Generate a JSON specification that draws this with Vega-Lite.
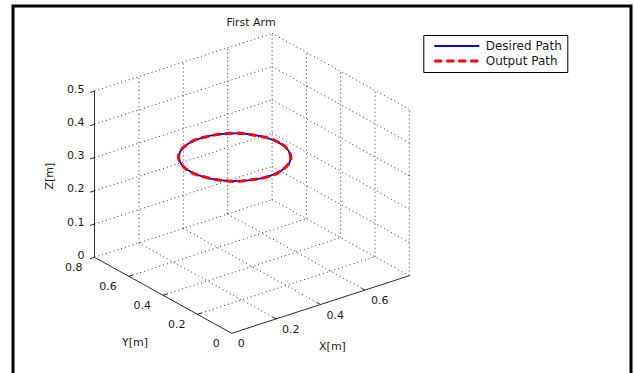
{
  "$schema": "https://vega.github.io/schema/vega-lite/v6.json",
  "width": 618,
  "height": 372,
  "autosize": {"type": "none"},
  "padding": {"left": 13, "top": 6, "right": 3, "bottom": 0},
  "background": "white",
  "config": {
    "view": {"stroke": "black", "strokeWidth": 3},
    "font": "DejaVu Sans",
    "text": {"font": "DejaVu Sans", "fontSize": 11, "color": "#1a1a1a"}
  },
  "title": {
    "text": "First Arm",
    "orient": "top",
    "anchor": "middle",
    "frame": "group",
    "dx": -71,
    "offset": -27.5,
    "baseline": "middle",
    "font": "DejaVu Sans",
    "fontSize": 11,
    "fontWeight": "normal",
    "color": "#1a1a1a"
  },
  "datasets": {
    "segs": [
      {"k": "g", "X1": 0.2, "Y1": 0.8, "Z1": 0, "X2": 0.2, "Y2": 0.8, "Z2": 0.5},
      {"k": "g", "X1": 0.4, "Y1": 0.8, "Z1": 0, "X2": 0.4, "Y2": 0.8, "Z2": 0.5},
      {"k": "g", "X1": 0.6, "Y1": 0.8, "Z1": 0, "X2": 0.6, "Y2": 0.8, "Z2": 0.5},
      {"k": "g", "X1": 0.8, "Y1": 0.8, "Z1": 0, "X2": 0.8, "Y2": 0.8, "Z2": 0.5},
      {"k": "g", "X1": 0, "Y1": 0.8, "Z1": 0.1, "X2": 0.8, "Y2": 0.8, "Z2": 0.1},
      {"k": "g", "X1": 0, "Y1": 0.8, "Z1": 0.2, "X2": 0.8, "Y2": 0.8, "Z2": 0.2},
      {"k": "g", "X1": 0, "Y1": 0.8, "Z1": 0.3, "X2": 0.8, "Y2": 0.8, "Z2": 0.3},
      {"k": "g", "X1": 0, "Y1": 0.8, "Z1": 0.4, "X2": 0.8, "Y2": 0.8, "Z2": 0.4},
      {"k": "g", "X1": 0, "Y1": 0.8, "Z1": 0.5, "X2": 0.8, "Y2": 0.8, "Z2": 0.5},
      {"k": "g", "X1": 0.8, "Y1": 0, "Z1": 0, "X2": 0.8, "Y2": 0, "Z2": 0.5},
      {"k": "g", "X1": 0.8, "Y1": 0.2, "Z1": 0, "X2": 0.8, "Y2": 0.2, "Z2": 0.5},
      {"k": "g", "X1": 0.8, "Y1": 0.4, "Z1": 0, "X2": 0.8, "Y2": 0.4, "Z2": 0.5},
      {"k": "g", "X1": 0.8, "Y1": 0.6, "Z1": 0, "X2": 0.8, "Y2": 0.6, "Z2": 0.5},
      {"k": "g", "X1": 0.8, "Y1": 0, "Z1": 0.1, "X2": 0.8, "Y2": 0.8, "Z2": 0.1},
      {"k": "g", "X1": 0.8, "Y1": 0, "Z1": 0.2, "X2": 0.8, "Y2": 0.8, "Z2": 0.2},
      {"k": "g", "X1": 0.8, "Y1": 0, "Z1": 0.3, "X2": 0.8, "Y2": 0.8, "Z2": 0.3},
      {"k": "g", "X1": 0.8, "Y1": 0, "Z1": 0.4, "X2": 0.8, "Y2": 0.8, "Z2": 0.4},
      {"k": "g", "X1": 0.8, "Y1": 0, "Z1": 0.5, "X2": 0.8, "Y2": 0.8, "Z2": 0.5},
      {"k": "g", "X1": 0.2, "Y1": 0, "Z1": 0, "X2": 0.2, "Y2": 0.8, "Z2": 0},
      {"k": "g", "X1": 0.4, "Y1": 0, "Z1": 0, "X2": 0.4, "Y2": 0.8, "Z2": 0},
      {"k": "g", "X1": 0.6, "Y1": 0, "Z1": 0, "X2": 0.6, "Y2": 0.8, "Z2": 0},
      {"k": "g", "X1": 0.8, "Y1": 0, "Z1": 0, "X2": 0.8, "Y2": 0.8, "Z2": 0},
      {"k": "g", "X1": 0, "Y1": 0.2, "Z1": 0, "X2": 0.8, "Y2": 0.2, "Z2": 0},
      {"k": "g", "X1": 0, "Y1": 0.4, "Z1": 0, "X2": 0.8, "Y2": 0.4, "Z2": 0},
      {"k": "g", "X1": 0, "Y1": 0.6, "Z1": 0, "X2": 0.8, "Y2": 0.6, "Z2": 0},
      {"k": "g", "X1": 0, "Y1": 0.8, "Z1": 0, "X2": 0.8, "Y2": 0.8, "Z2": 0},
      {"k": "a", "X1": 0, "Y1": 0.8, "Z1": 0, "X2": 0, "Y2": 0.8, "Z2": 0.5},
      {"k": "a", "X1": 0, "Y1": 0, "Z1": 0, "X2": 0, "Y2": 0.8, "Z2": 0},
      {"k": "a", "X1": 0, "Y1": 0, "Z1": 0, "X2": 0.8, "Y2": 0, "Z2": 0},
      {"k": "t", "X1": 0, "Y1": 0.8, "Z1": 0.1, "X2": -0.02, "Y2": 0.8, "Z2": 0.1},
      {"k": "t", "X1": 0, "Y1": 0.8, "Z1": 0.2, "X2": -0.02, "Y2": 0.8, "Z2": 0.2},
      {"k": "t", "X1": 0, "Y1": 0.8, "Z1": 0.3, "X2": -0.02, "Y2": 0.8, "Z2": 0.3},
      {"k": "t", "X1": 0, "Y1": 0.8, "Z1": 0.4, "X2": -0.02, "Y2": 0.8, "Z2": 0.4},
      {"k": "t", "X1": 0, "Y1": 0.8, "Z1": 0.5, "X2": -0.02, "Y2": 0.8, "Z2": 0.5},
      {"k": "t", "X1": 0, "Y1": 0.8, "Z1": 0, "X2": -0.02, "Y2": 0.8, "Z2": 0},
      {"k": "t", "X1": 0, "Y1": 0.2, "Z1": 0, "X2": 0.02, "Y2": 0.2, "Z2": 0},
      {"k": "t", "X1": 0, "Y1": 0.4, "Z1": 0, "X2": 0.02, "Y2": 0.4, "Z2": 0},
      {"k": "t", "X1": 0, "Y1": 0.6, "Z1": 0, "X2": 0.02, "Y2": 0.6, "Z2": 0},
      {"k": "t", "X1": 0.2, "Y1": 0, "Z1": 0, "X2": 0.2, "Y2": 0.02, "Z2": 0},
      {"k": "t", "X1": 0.4, "Y1": 0, "Z1": 0, "X2": 0.4, "Y2": 0.02, "Z2": 0},
      {"k": "t", "X1": 0.6, "Y1": 0, "Z1": 0, "X2": 0.6, "Y2": 0.02, "Z2": 0}
    ],
    "labels": [
      {"k": "z", "text": "0", "X": 0, "Y": 0.8, "Z": 0},
      {"k": "z", "text": "0.1", "X": 0, "Y": 0.8, "Z": 0.1},
      {"k": "z", "text": "0.2", "X": 0, "Y": 0.8, "Z": 0.2},
      {"k": "z", "text": "0.3", "X": 0, "Y": 0.8, "Z": 0.3},
      {"k": "z", "text": "0.4", "X": 0, "Y": 0.8, "Z": 0.4},
      {"k": "z", "text": "0.5", "X": 0, "Y": 0.8, "Z": 0.5},
      {"k": "y", "text": "0", "X": 0, "Y": 0, "Z": 0},
      {"k": "y", "text": "0.2", "X": 0, "Y": 0.2, "Z": 0},
      {"k": "y", "text": "0.4", "X": 0, "Y": 0.4, "Z": 0},
      {"k": "y", "text": "0.6", "X": 0, "Y": 0.6, "Z": 0},
      {"k": "y", "text": "0.8", "X": 0, "Y": 0.8, "Z": 0},
      {"k": "x", "text": "0", "X": 0, "Y": 0, "Z": 0},
      {"k": "x", "text": "0.2", "X": 0.2, "Y": 0, "Z": 0},
      {"k": "x", "text": "0.4", "X": 0.4, "Y": 0, "Z": 0},
      {"k": "x", "text": "0.6", "X": 0.6, "Y": 0, "Z": 0},
      {"k": "zt", "text": "Z[m]", "X": 0, "Y": 0.8, "Z": 0.25},
      {"k": "yt", "text": "Y[m]", "X": 0, "Y": 0.4, "Z": 0},
      {"k": "xt", "text": "X[m]", "X": 0.4, "Y": 0, "Z": 0}
    ],
    "paths": [
      {"path": "Desired Path", "t": 0, "X": 0.6, "Y": 0.5, "Z": 0.3},
      {"path": "Desired Path", "t": 10, "X": 0.597, "Y": 0.5347, "Z": 0.3},
      {"path": "Desired Path", "t": 20, "X": 0.5879, "Y": 0.5684, "Z": 0.3},
      {"path": "Desired Path", "t": 30, "X": 0.5732, "Y": 0.6, "Z": 0.3},
      {"path": "Desired Path", "t": 40, "X": 0.5532, "Y": 0.6286, "Z": 0.3},
      {"path": "Desired Path", "t": 50, "X": 0.5286, "Y": 0.6532, "Z": 0.3},
      {"path": "Desired Path", "t": 60, "X": 0.5, "Y": 0.6732, "Z": 0.3},
      {"path": "Desired Path", "t": 70, "X": 0.4684, "Y": 0.6879, "Z": 0.3},
      {"path": "Desired Path", "t": 80, "X": 0.4347, "Y": 0.697, "Z": 0.3},
      {"path": "Desired Path", "t": 90, "X": 0.4, "Y": 0.7, "Z": 0.3},
      {"path": "Desired Path", "t": 100, "X": 0.3653, "Y": 0.697, "Z": 0.3},
      {"path": "Desired Path", "t": 110, "X": 0.3316, "Y": 0.6879, "Z": 0.3},
      {"path": "Desired Path", "t": 120, "X": 0.3, "Y": 0.6732, "Z": 0.3},
      {"path": "Desired Path", "t": 130, "X": 0.2714, "Y": 0.6532, "Z": 0.3},
      {"path": "Desired Path", "t": 140, "X": 0.2468, "Y": 0.6286, "Z": 0.3},
      {"path": "Desired Path", "t": 150, "X": 0.2268, "Y": 0.6, "Z": 0.3},
      {"path": "Desired Path", "t": 160, "X": 0.2121, "Y": 0.5684, "Z": 0.3},
      {"path": "Desired Path", "t": 170, "X": 0.203, "Y": 0.5347, "Z": 0.3},
      {"path": "Desired Path", "t": 180, "X": 0.2, "Y": 0.5, "Z": 0.3},
      {"path": "Desired Path", "t": 190, "X": 0.203, "Y": 0.4653, "Z": 0.3},
      {"path": "Desired Path", "t": 200, "X": 0.2121, "Y": 0.4316, "Z": 0.3},
      {"path": "Desired Path", "t": 210, "X": 0.2268, "Y": 0.4, "Z": 0.3},
      {"path": "Desired Path", "t": 220, "X": 0.2468, "Y": 0.3714, "Z": 0.3},
      {"path": "Desired Path", "t": 230, "X": 0.2714, "Y": 0.3468, "Z": 0.3},
      {"path": "Desired Path", "t": 240, "X": 0.3, "Y": 0.3268, "Z": 0.3},
      {"path": "Desired Path", "t": 250, "X": 0.3316, "Y": 0.3121, "Z": 0.3},
      {"path": "Desired Path", "t": 260, "X": 0.3653, "Y": 0.303, "Z": 0.3},
      {"path": "Desired Path", "t": 270, "X": 0.4, "Y": 0.3, "Z": 0.3},
      {"path": "Desired Path", "t": 280, "X": 0.4347, "Y": 0.303, "Z": 0.3},
      {"path": "Desired Path", "t": 290, "X": 0.4684, "Y": 0.3121, "Z": 0.3},
      {"path": "Desired Path", "t": 300, "X": 0.5, "Y": 0.3268, "Z": 0.3},
      {"path": "Desired Path", "t": 310, "X": 0.5286, "Y": 0.3468, "Z": 0.3},
      {"path": "Desired Path", "t": 320, "X": 0.5532, "Y": 0.3714, "Z": 0.3},
      {"path": "Desired Path", "t": 330, "X": 0.5732, "Y": 0.4, "Z": 0.3},
      {"path": "Desired Path", "t": 340, "X": 0.5879, "Y": 0.4316, "Z": 0.3},
      {"path": "Desired Path", "t": 350, "X": 0.597, "Y": 0.4653, "Z": 0.3},
      {"path": "Desired Path", "t": 360, "X": 0.6, "Y": 0.5, "Z": 0.3},
      {"path": "Output Path", "t": 0, "X": 0.601, "Y": 0.5, "Z": 0.3},
      {"path": "Output Path", "t": 10, "X": 0.598, "Y": 0.5351, "Z": 0.301},
      {"path": "Output Path", "t": 20, "X": 0.5884, "Y": 0.5682, "Z": 0.3},
      {"path": "Output Path", "t": 30, "X": 0.5736, "Y": 0.6005, "Z": 0.299},
      {"path": "Output Path", "t": 40, "X": 0.553, "Y": 0.6292, "Z": 0.3},
      {"path": "Output Path", "t": 50, "X": 0.5289, "Y": 0.653, "Z": 0.301},
      {"path": "Output Path", "t": 60, "X": 0.5004, "Y": 0.6738, "Z": 0.3},
      {"path": "Output Path", "t": 70, "X": 0.4682, "Y": 0.6883, "Z": 0.3},
      {"path": "Output Path", "t": 80, "X": 0.435, "Y": 0.6976, "Z": 0.299},
      {"path": "Output Path", "t": 90, "X": 0.4, "Y": 0.7006, "Z": 0.3},
      {"path": "Output Path", "t": 100, "X": 0.3651, "Y": 0.6974, "Z": 0.301},
      {"path": "Output Path", "t": 110, "X": 0.3312, "Y": 0.6884, "Z": 0.3},
      {"path": "Output Path", "t": 120, "X": 0.2996, "Y": 0.6735, "Z": 0.3},
      {"path": "Output Path", "t": 130, "X": 0.2709, "Y": 0.6536, "Z": 0.299},
      {"path": "Output Path", "t": 140, "X": 0.2463, "Y": 0.6289, "Z": 0.3},
      {"path": "Output Path", "t": 150, "X": 0.2262, "Y": 0.6003, "Z": 0.301},
      {"path": "Output Path", "t": 160, "X": 0.2115, "Y": 0.5686, "Z": 0.3},
      {"path": "Output Path", "t": 170, "X": 0.2024, "Y": 0.5348, "Z": 0.3},
      {"path": "Output Path", "t": 180, "X": 0.1994, "Y": 0.5, "Z": 0.299},
      {"path": "Output Path", "t": 190, "X": 0.2025, "Y": 0.4651, "Z": 0.3},
      {"path": "Output Path", "t": 200, "X": 0.2117, "Y": 0.4312, "Z": 0.301},
      {"path": "Output Path", "t": 210, "X": 0.2264, "Y": 0.3995, "Z": 0.3},
      {"path": "Output Path", "t": 220, "X": 0.2466, "Y": 0.3709, "Z": 0.3},
      {"path": "Output Path", "t": 230, "X": 0.2712, "Y": 0.3462, "Z": 0.299},
      {"path": "Output Path", "t": 240, "X": 0.2998, "Y": 0.3263, "Z": 0.3},
      {"path": "Output Path", "t": 250, "X": 0.3315, "Y": 0.3116, "Z": 0.301},
      {"path": "Output Path", "t": 260, "X": 0.3654, "Y": 0.3025, "Z": 0.3},
      {"path": "Output Path", "t": 270, "X": 0.4002, "Y": 0.2995, "Z": 0.3},
      {"path": "Output Path", "t": 280, "X": 0.4349, "Y": 0.3026, "Z": 0.299},
      {"path": "Output Path", "t": 290, "X": 0.4688, "Y": 0.3117, "Z": 0.3},
      {"path": "Output Path", "t": 300, "X": 0.5004, "Y": 0.3265, "Z": 0.301},
      {"path": "Output Path", "t": 310, "X": 0.5291, "Y": 0.3465, "Z": 0.3},
      {"path": "Output Path", "t": 320, "X": 0.5537, "Y": 0.3712, "Z": 0.3},
      {"path": "Output Path", "t": 330, "X": 0.5737, "Y": 0.3998, "Z": 0.299},
      {"path": "Output Path", "t": 340, "X": 0.5884, "Y": 0.4315, "Z": 0.3},
      {"path": "Output Path", "t": 350, "X": 0.5975, "Y": 0.4652, "Z": 0.301},
      {"path": "Output Path", "t": 360, "X": 0.601, "Y": 0.5, "Z": 0.3}
    ]
  },
  "layer": [
    {
      "data": {"name": "segs"},
      "transform": [
        {"filter": "datum.k == 'g'"},
        {"calculate": "222*datum.X1 - 171.5*datum.Y1", "as": "px1"},
        {"calculate": "72*datum.X1 + 95*datum.Y1 + 332.6*datum.Z1", "as": "py1"},
        {"calculate": "222*datum.X2 - 171.5*datum.Y2", "as": "px2"},
        {"calculate": "72*datum.X2 + 95*datum.Y2 + 332.6*datum.Z2", "as": "py2"}
      ],
      "mark": {"type": "rule", "color": "#333333", "strokeWidth": 1, "strokeDash": [1, 3]},
      "encoding": {
        "x": {"field": "px1", "type": "quantitative", "axis": null, "scale": {"domain": [-218.7, 399.3], "nice": false, "zero": false}},
        "y": {"field": "py1", "type": "quantitative", "axis": null, "scale": {"domain": [-44.7, 327.3], "nice": false, "zero": false}},
        "x2": {"field": "px2"},
        "y2": {"field": "py2"}
      }
    },
    {
      "data": {"name": "segs"},
      "transform": [
        {"filter": "datum.k != 'g'"},
        {"calculate": "222*datum.X1 - 171.5*datum.Y1", "as": "px1"},
        {"calculate": "72*datum.X1 + 95*datum.Y1 + 332.6*datum.Z1", "as": "py1"},
        {"calculate": "222*datum.X2 - 171.5*datum.Y2", "as": "px2"},
        {"calculate": "72*datum.X2 + 95*datum.Y2 + 332.6*datum.Z2", "as": "py2"}
      ],
      "mark": {"type": "rule", "color": "#2a2a2a", "strokeWidth": 1},
      "encoding": {
        "x": {"field": "px1", "type": "quantitative", "axis": null, "scale": {"domain": [-218.7, 399.3], "nice": false, "zero": false}},
        "y": {"field": "py1", "type": "quantitative", "axis": null, "scale": {"domain": [-44.7, 327.3], "nice": false, "zero": false}},
        "x2": {"field": "px2"},
        "y2": {"field": "py2"}
      }
    },
    {
      "data": {"name": "paths"},
      "transform": [
        {"calculate": "222*datum.X - 171.5*datum.Y", "as": "px"},
        {"calculate": "72*datum.X + 95*datum.Y + 332.6*datum.Z", "as": "py"}
      ],
      "mark": {"type": "line", "interpolate": "linear"},
      "encoding": {
        "x": {"field": "px", "type": "quantitative", "axis": null, "scale": {"domain": [-218.7, 399.3], "nice": false, "zero": false}},
        "y": {"field": "py", "type": "quantitative", "axis": null, "scale": {"domain": [-44.7, 327.3], "nice": false, "zero": false}},
        "order": {"field": "t", "type": "quantitative"},
        "strokeWidth": {
          "field": "path",
          "type": "nominal",
          "scale": {"domain": ["Desired Path", "Output Path"], "range": [1.8, 3]},
          "legend": null
        },
        "color": {
          "field": "path",
          "type": "nominal",
          "scale": {"domain": ["Desired Path", "Output Path"], "range": ["#0000ff", "#ff0000"]},
          "legend": {
            "title": null,
            "orient": "none",
            "legendX": 410.3,
            "legendY": 29,
            "strokeColor": "black",
            "fillColor": "white",
            "padding": 5,
            "symbolType": "M-7.5,0H7.5",
            "symbolSize": 36,
            "symbolStrokeWidth": 2,
            "symbolOffset": 22.5,
            "labelFont": "DejaVu Sans",
            "labelFontSize": 12,
            "labelColor": "#1a1a1a",
            "labelOffset": 22.9,
            "rowPadding": 3
          }
        },
        "strokeDash": {
          "field": "path",
          "type": "nominal",
          "scale": {"domain": ["Desired Path", "Output Path"], "range": [[1, 0], [8, 4]]},
          "legend": {
            "title": null,
            "orient": "none",
            "legendX": 410.3,
            "legendY": 29,
            "strokeColor": "black",
            "fillColor": "white",
            "padding": 5,
            "symbolType": "M-7.5,0H7.5",
            "symbolSize": 36,
            "symbolStrokeWidth": 2,
            "symbolOffset": 22.5,
            "labelFont": "DejaVu Sans",
            "labelFontSize": 12,
            "labelColor": "#1a1a1a",
            "labelOffset": 22.9,
            "rowPadding": 3
          }
        }
      }
    },
    {
      "data": {"name": "labels"},
      "transform": [
        {"filter": "datum.k == 'z'"},
        {"calculate": "222*datum.X - 171.5*datum.Y", "as": "px"},
        {"calculate": "72*datum.X + 95*datum.Y + 332.6*datum.Z", "as": "py"}
      ],
      "mark": {"type": "text", "align": "right", "baseline": "middle", "dx": -10, "dy": -1.5},
      "encoding": {
        "x": {"field": "px", "type": "quantitative", "axis": null, "scale": {"domain": [-218.7, 399.3], "nice": false, "zero": false}},
        "y": {"field": "py", "type": "quantitative", "axis": null, "scale": {"domain": [-44.7, 327.3], "nice": false, "zero": false}},
        "text": {"field": "text"}
      }
    },
    {
      "data": {"name": "labels"},
      "transform": [
        {"filter": "datum.k == 'y'"},
        {"calculate": "222*datum.X - 171.5*datum.Y", "as": "px"},
        {"calculate": "72*datum.X + 95*datum.Y + 332.6*datum.Z", "as": "py"}
      ],
      "mark": {"type": "text", "align": "right", "baseline": "middle", "dx": -12, "dy": 10.5},
      "encoding": {
        "x": {"field": "px", "type": "quantitative", "axis": null, "scale": {"domain": [-218.7, 399.3], "nice": false, "zero": false}},
        "y": {"field": "py", "type": "quantitative", "axis": null, "scale": {"domain": [-44.7, 327.3], "nice": false, "zero": false}},
        "text": {"field": "text"}
      }
    },
    {
      "data": {"name": "labels"},
      "transform": [
        {"filter": "datum.k == 'x'"},
        {"calculate": "222*datum.X - 171.5*datum.Y", "as": "px"},
        {"calculate": "72*datum.X + 95*datum.Y + 332.6*datum.Z", "as": "py"}
      ],
      "mark": {"type": "text", "align": "left", "baseline": "middle", "dx": 6, "dy": 11},
      "encoding": {
        "x": {"field": "px", "type": "quantitative", "axis": null, "scale": {"domain": [-218.7, 399.3], "nice": false, "zero": false}},
        "y": {"field": "py", "type": "quantitative", "axis": null, "scale": {"domain": [-44.7, 327.3], "nice": false, "zero": false}},
        "text": {"field": "text"}
      }
    },
    {
      "data": {"name": "labels"},
      "transform": [
        {"filter": "datum.k == 'zt'"},
        {"calculate": "222*datum.X - 171.5*datum.Y", "as": "px"},
        {"calculate": "72*datum.X + 95*datum.Y + 332.6*datum.Z", "as": "py"}
      ],
      "mark": {"type": "text", "align": "center", "baseline": "middle", "angle": 270, "dx": -2, "dy": -44.5},
      "encoding": {
        "x": {"field": "px", "type": "quantitative", "axis": null, "scale": {"domain": [-218.7, 399.3], "nice": false, "zero": false}},
        "y": {"field": "py", "type": "quantitative", "axis": null, "scale": {"domain": [-44.7, 327.3], "nice": false, "zero": false}},
        "text": {"field": "text"}
      }
    },
    {
      "data": {"name": "labels"},
      "transform": [
        {"filter": "datum.k == 'yt'"},
        {"calculate": "222*datum.X - 171.5*datum.Y", "as": "px"},
        {"calculate": "72*datum.X + 95*datum.Y + 332.6*datum.Z", "as": "py"}
      ],
      "mark": {"type": "text", "align": "center", "baseline": "middle", "dx": -28, "dy": 48},
      "encoding": {
        "x": {"field": "px", "type": "quantitative", "axis": null, "scale": {"domain": [-218.7, 399.3], "nice": false, "zero": false}},
        "y": {"field": "py", "type": "quantitative", "axis": null, "scale": {"domain": [-44.7, 327.3], "nice": false, "zero": false}},
        "text": {"field": "text"}
      }
    },
    {
      "data": {"name": "labels"},
      "transform": [
        {"filter": "datum.k == 'xt'"},
        {"calculate": "222*datum.X - 171.5*datum.Y", "as": "px"},
        {"calculate": "72*datum.X + 95*datum.Y + 332.6*datum.Z", "as": "py"}
      ],
      "mark": {"type": "text", "align": "center", "baseline": "middle", "dx": 12, "dy": 42},
      "encoding": {
        "x": {"field": "px", "type": "quantitative", "axis": null, "scale": {"domain": [-218.7, 399.3], "nice": false, "zero": false}},
        "y": {"field": "py", "type": "quantitative", "axis": null, "scale": {"domain": [-44.7, 327.3], "nice": false, "zero": false}},
        "text": {"field": "text"}
      }
    }
  ]
}
